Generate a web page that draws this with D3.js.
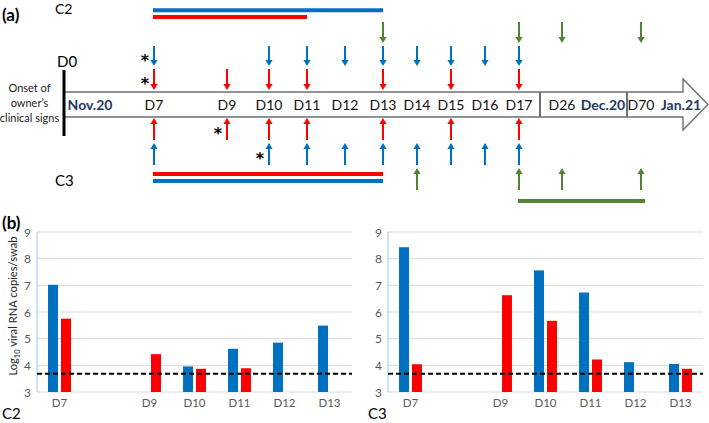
<!DOCTYPE html>
<html><head><meta charset="utf-8">
<script src="https://cdn.jsdelivr.net/npm/d3@7"></script>
<style>body{margin:0;background:#fff}svg{display:block;font-family:Lato,"Open Sans",sans-serif}</style>
</head><body><svg id="c" width="709" height="423"></svg>
<script>
// ---------- Timeline (a) data ----------
const timelineDays = [7, 9, 10, 11, 12, 13, 14, 15, 16, 17, 26, 70];
const timelineLabels = ["D7","D9","D10","D11","D12","D13","D14","D15","D16","D17","D26","D70"];
const monthLabels = ["Nov.20", "Dec.20", "Jan.21"];
const c2GreenDays = [13, 17, 26, 70];
const c2BlueDays = [7, 10, 11, 12, 13, 14, 15, 16, 17];
const c2RedDays = [7, 9, 10, 11, 13, 15, 17];
const c3RedDays = [7, 9, 10, 11, 13, 15, 17];
const c3BlueDays = [7, 10, 11, 12, 13, 14, 15, 16, 17];
const c3GreenDays = [14, 17, 26, 70];
const c2BlueStars = [7];
const c2RedStars = [7];
const c3RedStars = [9];
const c3BlueStars = [10];
const c2BluePeriod = [7, 13];
const c2RedPeriod = [7, 11];
const c3RedPeriod = [7, 13];
const c3BluePeriod = [7, 13];
const c3GreenPeriod = [17, 70];

// ---------- Bar charts (b) data ----------
const categories = ["D7","D8","D9","D10","D11","D12","D13"];
const categoryLabels = ["D7","","D9","D10","D11","D12","D13"];
const c2Blue = [7.02, null, null, 3.96, 4.62, 4.85, 5.49];
const c2Red  = [5.75, null, 4.42, 3.87, 3.89, null, null];
const c3Blue = [8.43, null, null, 7.56, 6.73, 4.12, 4.05];
const c3Red  = [4.04, null, 6.63, 5.67, 4.22, null, 3.87];
const yTicks = [3, 4, 5, 6, 7, 8, 9];
const detectionLimit = 3.68;

const BLUE = "#0070C0", RED = "#FF0000", GREEN = "#548235", NAVY = "#1F3864";
const svg = d3.select("#c");

// ---------- Panel (a) ----------
const x = d3.scaleLinear().domain([7, 9, 10, 13, 17, 26, 70]).range([154, 227, 269, 383, 519, 562, 641]);

svg.append("text").attr("x", 2).attr("y", 21).attr("font-size", 17).attr("font-weight", "bold").text("(a)");
svg.append("text").attr("x", 55).attr("y", 14).attr("font-size", 14).text("C2");
svg.append("text").attr("x", 55).attr("y", 186).attr("font-size", 15).text("C3");
svg.append("text").attr("x", 57).attr("y", 67).attr("font-size", 15).text("D0");

// Onset label
["Onset of", "owner\u2019s", "clinical signs"].forEach((t, i) => {
  svg.append("text").attr("x", 29.5).attr("y", 92 + i * 15).attr("text-anchor", "middle")
    .attr("font-size", 11).attr("fill", "#222").text(t);
});

// Timeline arrow box
svg.append("path")
  .attr("d", "M64,92 L683,92 L683,79 L708,104.5 L683,130 L683,117 L64,117 Z")
  .attr("fill", "#fff").attr("stroke", "#6f6f6f").attr("stroke-width", 1.4);
[540, 627].forEach(sx => svg.append("line").attr("x1", sx).attr("x2", sx).attr("y1", 92).attr("y2", 117)
  .attr("stroke", "#6f6f6f").attr("stroke-width", 2));
svg.append("line").attr("x1", 64).attr("x2", 64).attr("y1", 70).attr("y2", 136)
  .attr("stroke", "#000").attr("stroke-width", 3);

// day labels
svg.selectAll("text.day").data(timelineDays).join("text").attr("class", "day")
  .attr("x", d => x(d)).attr("y", 110).attr("text-anchor", "middle").attr("font-size", 14).attr("fill", "#111")
  .text((d, i) => timelineLabels[i]);
const monthX = [90, 603, 681];
monthLabels.forEach((m, i) => svg.append("text").attr("x", monthX[i]).attr("y", 110).attr("text-anchor", "middle")
  .attr("font-size", 14).attr("font-weight", "bold").attr("fill", NAVY).text(m));

// arrows
function arrows(days, y1, y2, color, down) {
  const g = svg.append("g");
  days.forEach(d => {
    const cx = x(d), hl = 6, hw = 3.6;
    if (down) {
      g.append("line").attr("x1", cx).attr("x2", cx).attr("y1", y1).attr("y2", y2 - hl + 1)
        .attr("stroke", color).attr("stroke-width", 2);
      g.append("path").attr("d", `M${cx - hw},${y2 - hl} L${cx + hw},${y2 - hl} L${cx},${y2} Z`).attr("fill", color);
    } else {
      g.append("line").attr("x1", cx).attr("x2", cx).attr("y1", y1 + hl - 1).attr("y2", y2)
        .attr("stroke", color).attr("stroke-width", 2);
      g.append("path").attr("d", `M${cx - hw},${y1 + hl} L${cx + hw},${y1 + hl} L${cx},${y1} Z`).attr("fill", color);
    }
  });
}
arrows(c2GreenDays, 22, 43, GREEN, true);
arrows(c2BlueDays, 46, 66, BLUE, true);
arrows(c2RedDays, 69, 90, RED, true);
arrows(c3RedDays, 118, 140, RED, false);
arrows(c3BlueDays, 143, 165, BLUE, false);
arrows(c3GreenDays, 168, 190, GREEN, false);

function stars(days, cy) {
  days.forEach(d => svg.append("text").attr("x", x(d) - 9).attr("y", cy + 10).attr("text-anchor", "middle")
    .attr("font-family", "'DejaVu Sans', sans-serif")
    .attr("font-size", 16).attr("font-weight", "bold").text("*"));
}
stars(c2BlueStars, 56);
stars(c2RedStars, 79);
stars(c3RedStars, 129);
stars(c3BlueStars, 154);

function period(p, y, color, extra) {
  svg.append("line").attr("x1", x(p[0]) - 1).attr("x2", x(p[1]) + (extra || 0)).attr("y1", y).attr("y2", y)
    .attr("stroke", color).attr("stroke-width", 4);
}
period(c2BluePeriod, 10.2, BLUE);
period(c2RedPeriod, 17, RED);
period(c3RedPeriod, 174, RED);
period(c3BluePeriod, 181, BLUE);
period(c3GreenPeriod, 201, GREEN, 4);

// ---------- Panel (b) ----------
svg.append("text").attr("x", 2).attr("y", 229).attr("font-size", 17).attr("font-weight", "bold").text("(b)");

function barChart(x0, x1, blue, red, label, labelX) {
  const y = d3.scaleLinear().domain([3, 9]).range([392, 232]);
  const xb = d3.scaleBand().domain(categories).range([x0, x1]).paddingInner(0.49).paddingOuter(0.245);
  const xs = d3.scaleBand().domain(["blue", "red"]).range([0, xb.bandwidth()]).paddingInner(0.23);
  const g = svg.append("g");
  g.selectAll("line.grid").data(yTicks.slice(1)).join("line").attr("class", "grid")
    .attr("x1", x0).attr("x2", x1).attr("y1", d => y(d)).attr("y2", d => y(d))
    .attr("stroke", "#D9D9D9").attr("stroke-width", 1);
  g.append("line").attr("x1", x0).attr("x2", x1).attr("y1", y(3)).attr("y2", y(3)).attr("stroke", "#D9D9D9");
  g.append("line").attr("x1", x0).attr("x2", x0).attr("y1", y(3)).attr("y2", y(9)).attr("stroke", "#9DC3E6");
  g.selectAll("text.yt").data(yTicks).join("text").attr("class", "yt")
    .attr("x", x0 - 6).attr("y", d => y(d) + 4.5).attr("text-anchor", "end")
    .attr("font-size", 12).attr("fill", "#595959").text(d => d);
  const series = [{k: "blue", v: blue, c: BLUE}, {k: "red", v: red, c: RED}];
  series.forEach(s => {
    g.selectAll(null).data(categories.map((c, i) => ({c, v: s.v[i]})).filter(d => d.v != null)).join("rect")
      .attr("x", d => xb(d.c) + xs(s.k)).attr("width", xs.bandwidth())
      .attr("y", d => y(d.v)).attr("height", d => y(3) - y(d.v)).attr("fill", s.c);
  });
  g.append("line").attr("x1", x0).attr("x2", x1).attr("y1", y(detectionLimit)).attr("y2", y(detectionLimit))
    .attr("stroke", "#000").attr("stroke-width", 2).attr("stroke-dasharray", "5,3");
  g.selectAll("text.xt").data(categories).join("text").attr("class", "xt")
    .attr("x", d => xb(d) + xb.bandwidth() / 2).attr("y", 407).attr("text-anchor", "middle")
    .attr("font-size", 11.5).attr("fill", "#595959").text((d, i) => categoryLabels[i]);
  svg.append("text").attr("x", labelX).attr("y", 419).attr("font-size", 15).text(label);
}
barChart(37, 352, c2Blue, c2Red, "C2", 2);
barChart(388, 703, c3Blue, c3Red, "C3", 368);

const yl = svg.append("text").attr("transform", "translate(17,306) rotate(-90)").attr("text-anchor", "middle")
  .attr("font-size", 11.2).attr("fill", "#262626");
yl.append("tspan").text("Log");
yl.append("tspan").attr("font-size", 7.5).attr("dy", 3).text("10");
yl.append("tspan").attr("dy", -3).text(" viral RNA copies/swab");
</script></body></html>
